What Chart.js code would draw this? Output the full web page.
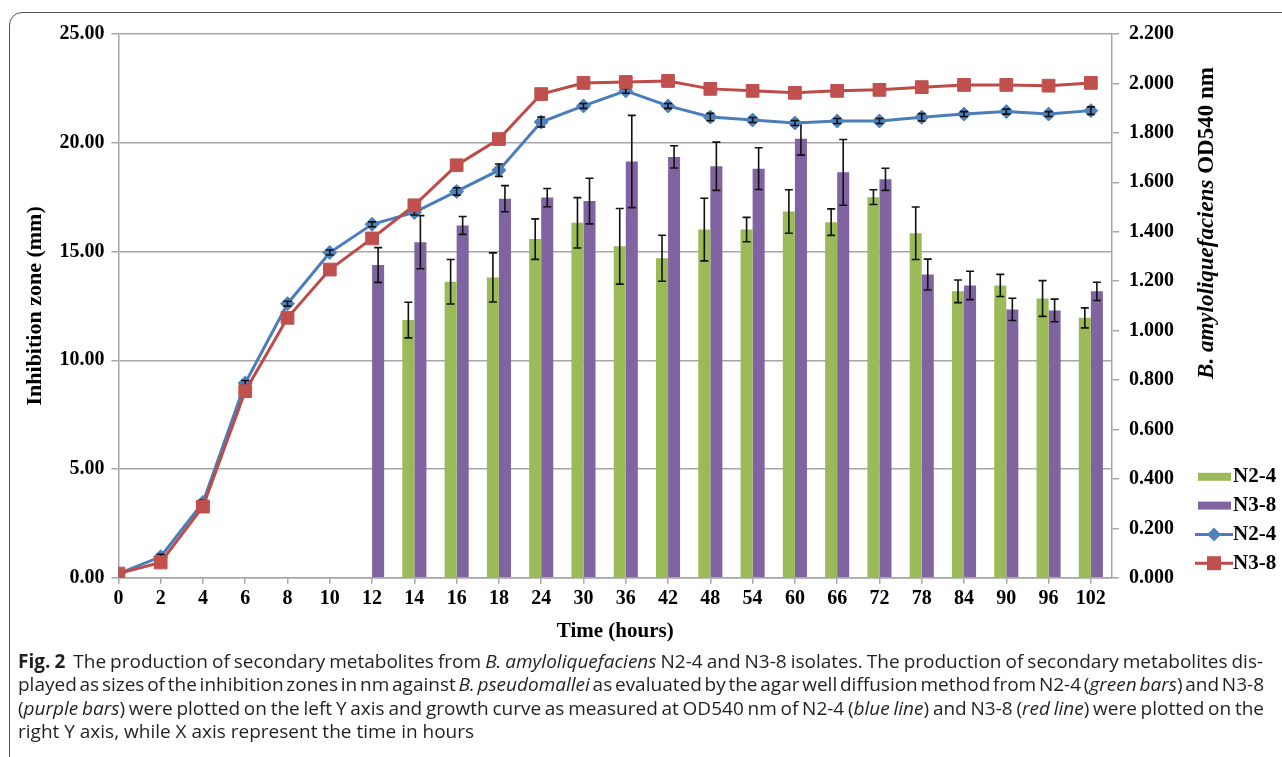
<!DOCTYPE html>
<html>
<head>
<meta charset="utf-8">
<script src="https://cdn.jsdelivr.net/npm/chart.js@4"></script>
<style>
html, body { margin: 0; padding: 0; background: #fff; overflow: hidden; }
body { width: 1282px; height: 757px; position: relative; }
#frame { position: absolute; left: 9px; top: 12px; width: 1330px; height: 820px; border: 1.5px solid #555; border-radius: 13px; box-sizing: border-box; }
#wrap { position: absolute; left: 0; top: 0; width: 1282px; height: 651px; }
#caption { position: absolute; left: 18px; top: 650px; width: 1246px; font-family: "Open Sans", sans-serif; font-size: 19px; line-height: 23.4px; color: #231f20; }
#caption div { white-space: nowrap; }
#caption span { display: inline-block; }
</style>
</head>
<body>
<div id="frame"></div>
<div id="wrap"><canvas id="chart" width="1282" height="651"></canvas></div>
<div id="caption">
<div class="fit"><span><b>Fig. 2</b>&nbsp; The production of secondary metabolites from <i>B. amyloliquefaciens</i> N2-4 and N3-8 isolates. The production of secondary metabolites dis-</span></div>
<div class="fit"><span>played as sizes of the inhibition zones in nm against <i>B. pseudomallei</i> as evaluated by the agar well diffusion method from N2-4 (<i>green bars</i>) and N3-8</span></div>
<div class="fit"><span>(<i>purple bars</i>) were plotted on the left Y axis and growth curve as measured at OD540 nm of N2-4 (<i>blue line</i>) and N3-8 (<i>red line</i>) were plotted on the</span></div>
<div><span>right Y axis, while X axis represent the time in hours</span></div>
</div>
<script>
// time points (hours)
const hours = ['0','2','4','6','8','10','12','14','16','18','24','30','36','42','48','54','60','66','72','78','84','90','96','102'];

// inhibition zone (mm), left axis
const zoneN24 = [null,null,null,null,null,null,null,11.85,13.61,13.81,15.57,16.32,15.24,14.69,16.01,16.01,16.84,16.35,17.50,15.84,13.17,13.44,12.84,11.95];
const zoneN24Err = [0,0,0,0,0,0,0,0.82,1.02,1.13,0.93,1.16,1.74,1.06,1.44,0.56,1.00,0.61,0.34,1.21,0.52,0.51,0.82,0.46];
const zoneN38 = [null,null,null,null,null,null,14.38,15.43,16.20,17.43,17.48,17.32,19.14,19.35,18.92,18.81,20.18,18.64,18.32,13.94,13.44,12.34,12.29,13.17];
const zoneN38Err = [0,0,0,0,0,0,0.80,1.22,0.41,0.60,0.42,1.05,2.12,0.51,1.11,0.96,0.75,1.51,0.51,0.71,0.65,0.51,0.52,0.42];

// growth OD540, right axis
const odN24 = [0.017,0.085,0.305,0.788,1.109,1.316,1.430,1.478,1.563,1.649,1.844,1.909,1.970,1.909,1.864,1.852,1.840,1.848,1.848,1.863,1.876,1.886,1.876,1.890];
const odN24Err = [0,0.01,0.01,0.01,0.01,0.01,0.01,0.01,0.015,0.025,0.02,0.01,0.01,0.01,0.015,0.01,0.01,0.01,0.01,0.015,0.01,0.01,0.01,0.015];
const odN38 = [0.017,0.062,0.288,0.755,1.052,1.247,1.373,1.507,1.669,1.775,1.957,2.002,2.006,2.010,1.978,1.970,1.962,1.970,1.974,1.985,1.994,1.994,1.991,2.002];

// stretch caption lines to full width like the journal layout
document.querySelectorAll('#caption .fit').forEach(function(line) {
    const span = line.firstElementChild;
    const spaces = (span.textContent.match(/ /g) || []).length;
    const extra = 1246 - span.getBoundingClientRect().width;
    span.style.wordSpacing = (extra / spaces) + 'px';
});

const serif = '"Liberation Serif", "Times New Roman", serif';
Chart.defaults.font.family = serif;
Chart.defaults.font.weight = 'bold';
Chart.defaults.font.size = 20;
Chart.defaults.color = '#000';

const gridGray = '#a6a6a6';

const errorBars = {
    id: 'errorBars',
    afterDatasetDraw(chart, args) {
        const ds = chart.data.datasets[args.index];
        if (!ds.errors) return;
        const yScale = args.meta.yScale;
        const ctx = chart.ctx;
        ctx.save();
        ctx.strokeStyle = '#111';
        ctx.lineWidth = 1.6;
        args.meta.data.forEach(function(el, i) {
            const v = ds.data[i], e = ds.errors[i];
            if (v == null || !e) return;
            const top = yScale.getPixelForValue(v + e), bot = yScale.getPixelForValue(v - e);
            ctx.beginPath();
            ctx.moveTo(el.x, top); ctx.lineTo(el.x, bot);
            ctx.moveTo(el.x - 4, top); ctx.lineTo(el.x + 4, top);
            ctx.moveTo(el.x - 4, bot); ctx.lineTo(el.x + 4, bot);
            ctx.stroke();
        });
        ctx.restore();
    }
};

// right axis title (mixed italic) + legend on the right side
const sideDecor = {
    id: 'sideDecor',
    afterDraw(chart) {
        const ctx = chart.ctx, area = chart.chartArea;
        ctx.save();
        const p1 = 'B. amyloliquefaciens', p2 = ' OD540 nm';
        const f1 = 'italic bold 23px ' + serif, f2 = 'bold 23px ' + serif;
        ctx.font = f1; const w1 = ctx.measureText(p1).width;
        ctx.font = f2; const w2 = ctx.measureText(p2).width;
        ctx.translate(area.right + 95, area.top + 189);
        ctx.rotate(-Math.PI / 2);
        ctx.fillStyle = '#000';
        ctx.textBaseline = 'middle';
        ctx.textAlign = 'left';
        ctx.font = f1; ctx.fillText(p1, -(w1 + w2) / 2, 0);
        ctx.font = f2; ctx.fillText(p2, -(w1 + w2) / 2 + w1, 0);
        ctx.restore();

        // legend
        const lx = area.right + 86, ly = area.bottom - 101, step = 28.8;
        ctx.save();
        ctx.font = 'bold 21px ' + serif;
        ctx.textBaseline = 'middle';
        chart.data.datasets.forEach(function(ds, i) {
            const y = ly + i * step;
            if (ds.type === 'line') {
                ctx.strokeStyle = ds.borderColor;
                ctx.lineWidth = 3;
                ctx.beginPath(); ctx.moveTo(lx - 3, y); ctx.lineTo(lx + 35, y); ctx.stroke();
                ctx.fillStyle = ds.pointBackgroundColor;
                ctx.beginPath();
                if (ds.pointStyle === 'rectRot') {
                    ctx.moveTo(lx + 16, y - 7); ctx.lineTo(lx + 23, y); ctx.lineTo(lx + 16, y + 7); ctx.lineTo(lx + 9, y);
                } else {
                    ctx.rect(lx + 9, y - 7, 14, 14);
                }
                ctx.closePath(); ctx.fill();
            } else {
                ctx.fillStyle = ds.backgroundColor;
                ctx.fillRect(lx, y - 4, 33, 8);
            }
            ctx.fillStyle = '#000';
            ctx.fillText(ds.label, lx + 35, y);
        });
        ctx.restore();
    }
};

new Chart(document.getElementById('chart'), {
    type: 'bar',
    data: {
        labels: hours.map(function(h, i) { return i; }),
        datasets: [
            { label: 'N2-4', data: zoneN24, errors: zoneN24Err, backgroundColor: '#9bbb59', yAxisID: 'y', order: 2, barPercentage: 1, categoryPercentage: 0.57 },
            { label: 'N3-8', data: zoneN38, errors: zoneN38Err, backgroundColor: '#8064a2', yAxisID: 'y', order: 2, barPercentage: 1, categoryPercentage: 0.57 },
            { type: 'line', label: 'N2-4', data: odN24, errors: odN24Err, yAxisID: 'y1', order: 1, borderColor: '#4a7ebb', borderWidth: 3, pointStyle: 'rectRot', pointRadius: 7, pointBackgroundColor: '#4f81bd', pointBorderColor: '#4f81bd', pointBorderWidth: 1, tension: 0 },
            { type: 'line', label: 'N3-8', data: odN38, yAxisID: 'y1', order: 0, borderColor: '#be4b48', borderWidth: 3, pointStyle: 'rect', pointRadius: 9, pointBackgroundColor: '#c0504d', pointBorderColor: '#c0504d', pointBorderWidth: 1, tension: 0 }
        ]
    },
    options: {
        responsive: false,
        animation: false,
        layout: { padding: { left: 20, right: 98, top: 34, bottom: 3 } },
        plugins: { legend: { display: false }, tooltip: { enabled: false } },
        scales: {
            x: {
                type: 'linear', min: 0, max: 23.5, offset: false,
                ticks: { stepSize: 1, includeBounds: false, autoSkip: false, maxRotation: 0, padding: 3,
                    callback: function(v) { return hours[v] !== undefined ? hours[v] : ''; } },
                grid: { offset: false, drawOnChartArea: false, color: gridGray, lineWidth: 1.5, tickLength: 6 },
                border: { color: gridGray, width: 1.5 },
                title: { display: true, text: 'Time (hours)', font: { size: 21, weight: 'bold' }, padding: { top: 5, bottom: 4 } }
            },
            y: {
                position: 'left', min: 0, max: 25,
                ticks: { stepSize: 5, padding: 7, callback: function(v) { return v.toFixed(2); } },
                grid: { color: gridGray, lineWidth: 1.5, tickLength: 7 },
                border: { color: gridGray, width: 1.5 },
                title: { display: true, text: 'Inhibition zone (mm)', font: { size: 22, weight: 'bold' }, padding: { top: 2, bottom: 4 } }
            },
            y1: {
                position: 'right', min: 0, max: 2.2,
                ticks: { stepSize: 0.2, padding: 10, callback: function(v) { return v.toFixed(3); } },
                grid: { drawOnChartArea: false, color: gridGray, lineWidth: 1.5, tickLength: 7 },
                border: { color: gridGray, width: 1.5 }
            }
        }
    },
    plugins: [errorBars, sideDecor]
});
</script>
</body>
</html>
